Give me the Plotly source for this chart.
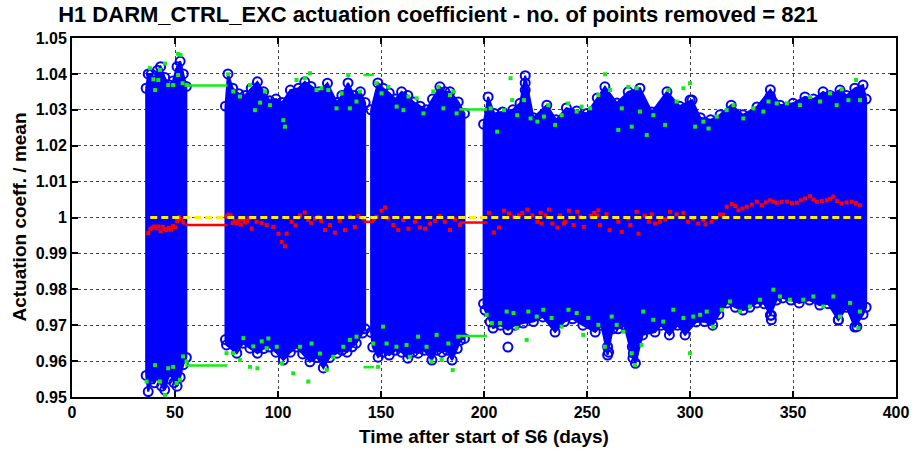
import plotly.graph_objects as go

# ---------------- data ----------------
TITLE = "H1 DARM_CTRL_EXC actuation coefficient - no. of points removed = 821"
X_LABEL = "Time after start of S6 (days)"
Y_LABEL = "Actuation coeff. / mean"

X_TICKS = [0, 50, 100, 150, 200, 250, 300, 350, 400]
Y_TICKS = [0.95, 0.96, 0.97, 0.98, 0.99, 1.00, 1.01, 1.02, 1.03, 1.04, 1.05]
Y_TICK_TEXT = ["0.95", "0.96", "0.97", "0.98", "0.99", "1", "1.01", "1.02", "1.03", "1.04", "1.05"]

# envelope of the dense blue cloud, per observing segment
SEG_A_UP_X = [36.0, 37, 38.5, 40, 41.5, 43, 45, 47, 49, 51, 52.5, 54, 55.5]
SEG_A_UP_Y = [1.036, 1.040, 1.040, 1.038, 1.041, 1.042, 1.039, 1.037, 1.038, 1.042, 1.0435, 1.040, 1.0365]
SEG_A_LO_X = [36.0, 37, 38.5, 40, 42, 43.5, 45, 46.5, 48, 49.5, 51, 52.5, 54, 55.5]
SEG_A_LO_Y = [0.956, 0.9515, 0.955, 0.954, 0.9565, 0.953, 0.952, 0.955, 0.957, 0.954, 0.953, 0.9555, 0.959, 0.961]

SEG_B_UP_X = [74.5, 75.7, 78, 81, 84, 87, 90, 93, 96, 99, 102, 106, 110, 113, 116, 120, 124, 128.6, 131, 134, 137, 140, 142.3]
SEG_B_UP_Y = [1.031, 1.040, 1.036, 1.0345, 1.034, 1.036, 1.0378, 1.035, 1.0325, 1.033, 1.032, 1.0355, 1.036, 1.0378,
              1.0365, 1.035, 1.0374, 1.032, 1.034, 1.0375, 1.034, 1.035, 1.032]
SEG_B_LO_X = [74.5, 75, 80, 83, 86.4, 90, 93, 96, 99, 102.6, 106, 109, 112, 115.5, 119, 122, 125, 128.6, 131, 133.5,
              136, 138, 141, 142.3]
SEG_B_LO_Y = [0.966, 0.9645, 0.9622, 0.965, 0.9636, 0.9622, 0.9635, 0.9639, 0.9625, 0.9603, 0.9625, 0.9639, 0.962,
              0.9598, 0.961, 0.9581, 0.961, 0.9622, 0.963, 0.9625, 0.964, 0.965, 0.9678, 0.969]

SEG_C_UP_X = [145.2, 148.5, 151, 154, 157, 160, 163, 165.6, 169, 172, 175, 178.6, 181, 183.5, 187.5, 190.5]
SEG_C_UP_Y = [1.030, 1.0375, 1.036, 1.0347, 1.033, 1.035, 1.034, 1.0322, 1.031, 1.030, 1.033, 1.0364, 1.035, 1.035,
              1.0322, 1.029]
SEG_C_LO_X = [145.2, 146, 148.6, 151, 154, 157, 160, 163, 165.5, 168, 171, 174.7, 177, 179.6, 182, 184.5, 187, 188.5, 190.5]
SEG_C_LO_Y = [0.968, 0.9639, 0.9611, 0.9625, 0.9617, 0.963, 0.9625, 0.9608, 0.9625, 0.9622, 0.963, 0.9603, 0.963,
              0.9625, 0.963, 0.9603, 0.9635, 0.9658, 0.9663]

SEG_D_UP_X = [199.8, 202, 205, 209, 214, 217.5, 220, 224, 230.5, 235, 240, 245, 250, 255, 258.7, 264.5, 270, 275.7,
              281.5, 288.8, 295, 301, 305, 310, 314.6, 320, 325.7, 332.5, 339, 343.7, 350, 355.8, 360, 364.6, 368,
              372.8, 376, 380, 384, 385.5]
SEG_D_UP_Y = [1.026, 1.0336, 1.029, 1.0294, 1.030, 1.0318, 1.0395, 1.0278, 1.0313, 1.0272, 1.0305, 1.0297, 1.029,
              1.0333, 1.0364, 1.0319, 1.035, 1.036, 1.0294, 1.035, 1.031, 1.0327, 1.0278, 1.0272, 1.0286, 1.0313,
              1.0286, 1.0308, 1.0356, 1.0313, 1.0318, 1.0336, 1.033, 1.035, 1.034, 1.0355, 1.034, 1.036, 1.0369, 1.033]
SEG_D_LO_X = [199.8, 200.5, 203, 204.4, 208, 211.6, 215, 219, 224, 228.6, 234.5, 239, 243, 248, 254, 257, 260, 262.5,
              265, 268, 272.3, 273.5, 277, 283, 286, 290, 294, 297.6, 303, 307, 311, 314, 318, 322, 325.7, 329, 332.5,
              336, 339, 342, 345, 349, 353, 358, 363, 367, 372, 376, 380, 384, 385.5]
SEG_D_LO_Y = [0.976, 0.9742, 0.9709, 0.9692, 0.970, 0.9687, 0.970, 0.9706, 0.971, 0.9723, 0.9681, 0.971, 0.9718,
              0.970, 0.9681, 0.970, 0.9617, 0.969, 0.969, 0.970, 0.9608, 0.9594, 0.9673, 0.9681, 0.970, 0.9673, 0.970,
              0.9673, 0.9709, 0.971, 0.970, 0.973, 0.9762, 0.975, 0.9742, 0.975, 0.9762, 0.976, 0.9728, 0.977, 0.9776,
              0.977, 0.9762, 0.977, 0.9756, 0.976, 0.9714, 0.975, 0.9695, 0.973, 0.975]

# isolated blue points standing out of the cloud
OUT_X = [211.6, 220, 220, 260, 260.5, 272, 272.5, 300, 300, 339, 339.5, 339.5, 372, 381]
OUT_Y = [0.9639, 1.0375, 1.0355, 0.964, 0.9625, 0.964, 0.9622, 1.0327, 1.0309, 1.0338, 0.9728, 0.9715, 0.9715, 0.9696]

# per-bin maxima / minima (green)
GREEN_UP_X = [37.8, 39.5, 40.3, 41.9, 42.7, 45.1, 46.7, 49.1, 51.5, 51.5, 52.7, 53.7, 55.6,
              75.8, 78.3, 81.5, 86.4, 88.8, 91.3, 93.7, 96.1, 102.6, 103.4, 109, 113, 115.5, 118.7, 121.1, 124.4,
              128.4, 130.9, 134.1, 134.9, 138.1, 139.8,
              147.9, 150.3, 153.6, 157.6, 160.9, 163.3, 167.3, 170.6, 175.4, 177.9, 180.3, 183.5, 185.1, 186.7,
              203.2, 206.4, 209.7, 212.9, 213.7, 216.1, 219.4, 222.6, 225.9, 229.1, 231.2, 234.5, 237.7, 240.9, 245,
              247.4, 251.5, 255.5, 258.8, 261.2, 265.2, 266.9, 270.1, 271.7, 274.1, 275.7, 279, 282.2, 287.9, 289.5,
              293.5, 296.8, 300, 302.5, 306.5, 309, 313, 317.8, 321.1, 325.9, 330.8, 335.6, 338.1, 342.1, 347, 353.4,
              358.3, 363.1, 368, 371.2, 373.6, 376.9, 380.6, 382.5]
GREEN_UP_Y = [1.0416, 1.0385, 1.0355, 1.0383, 1.0411, 1.0429, 1.0369, 1.0369, 1.0456, 1.0397, 1.0453, 1.0374, 1.0369,
              1.0399, 1.0351, 1.0337, 1.0369, 1.0299, 1.0320, 1.0351, 1.0313, 1.0271, 1.0253, 1.0383, 1.0388, 1.0402,
              1.0355, 1.036, 1.0355, 1.0304, 1.0346, 1.0397, 1.0304, 1.0323, 1.0351,
              1.0374, 1.0346, 1.0364, 1.0309, 1.0299, 1.0337, 1.0332, 1.029, 1.0351, 1.0364, 1.0304, 1.0341, 1.0351,
              1.029,
              1.0304, 1.0239, 1.0299, 1.0388, 1.0327, 1.0285, 1.0327, 1.0276, 1.0267, 1.0281, 1.0313, 1.0258, 1.0285,
              1.0318, 1.0295, 1.0309, 1.0304, 1.0341, 1.0399, 1.0355, 1.0244, 1.0304, 1.0364, 1.0253, 1.036, 1.0295,
              1.023, 1.0285, 1.0258, 1.0355, 1.0323, 1.036, 1.0374, 1.0253, 1.0267, 1.0248, 1.0281, 1.0299, 1.0313,
              1.0276, 1.0304, 1.0295, 1.0323, 1.0318, 1.0318, 1.0313, 1.0336, 1.0323, 1.0346, 1.0313, 1.0357, 1.0327,
              1.0383, 1.0327]
GREEN_LO_X = [36.2, 40.3, 42.7, 45.1, 46.7, 49.1, 50.8, 52.4, 53.9, 55.6,
              75, 78.3, 81.5, 83.2, 86.4, 88, 90, 92.1, 94.5, 95.3, 99.4, 101.8, 107.4, 110.7, 114.7, 116.3, 120.4,
              123.6, 126.8, 131.7, 134.9, 138.1,
              146.2, 148.6, 151, 152.7, 157.5, 162.4, 164, 168, 172.1, 174.5, 177, 179.4, 182.7, 184.8, 187.5,
              201.3, 203.8, 207.8, 211, 214.3, 215.9, 220.7, 221.5, 225.6, 228.8, 232.8, 237.7, 241, 245, 248.2,
              250.6, 255.5, 258.7, 262, 264.4, 267.6, 271.7, 273.3, 276.5, 277.3, 282.2, 287, 291.9, 296.8, 300,
              301.6, 304.9, 308.1, 311.3, 315.4, 319.4, 324.3, 329.1, 334, 340.5, 343.7, 348.5, 355, 359.9, 364.7,
              369.6, 372.8, 377.7, 381.7, 382.5]
GREEN_LO_Y = [0.9543, 0.9589, 0.9543, 0.9506, 0.958, 0.9584, 0.9539, 0.9548, 0.9613, 0.9599,
              0.9622, 0.9622, 0.9603, 0.9664, 0.9584, 0.9641, 0.958, 0.9655, 0.9636, 0.9663, 0.964, 0.9594, 0.9566,
              0.964, 0.9543, 0.9649, 0.9621, 0.9575, 0.9612, 0.964, 0.9659, 0.9668,
              0.9649, 0.9584, 0.9696, 0.9649, 0.964, 0.9645, 0.9612, 0.9668, 0.964, 0.9599, 0.9673, 0.9603, 0.9649,
              0.9575, 0.9668,
              0.9729, 0.9706, 0.9706, 0.9738, 0.9734, 0.9692, 0.9659, 0.9738, 0.9724, 0.9743, 0.972, 0.9696, 0.9743,
              0.9734, 0.9673, 0.972, 0.9701, 0.964, 0.9724, 0.9701, 0.9682, 0.9622, 0.9589, 0.9645, 0.9738, 0.9715,
              0.971, 0.9743, 0.972, 0.9622, 0.9724, 0.9729, 0.9738, 0.9696, 0.9743, 0.9766, 0.9738, 0.9752, 0.9771,
              0.9799, 0.978, 0.9771, 0.9771, 0.978, 0.9752, 0.978, 0.9724, 0.9762, 0.9692, 0.9738]

# per-bin means (red)
RED_X = [37, 38, 39, 40, 41, 42, 43, 44, 45, 46, 47, 48, 49, 50, 51, 52, 53, 54,
         75, 76, 77, 78, 79, 80, 81, 82, 83, 84, 85, 86, 87.2, 89.6, 92, 94.5, 97.7, 100.2, 101.8, 103.4, 104.2,
         106.6, 108.5, 110.7, 113, 114.7, 116, 118, 119.6, 121, 122.8, 125.2, 127.6, 130, 132.5, 134.9, 137.3, 139,
         141.4,
         146.5, 147.9, 150.3, 152, 153.6, 156, 158.4, 160.8, 163.3, 166.5, 168.9, 171.4, 173.8, 176.2, 178.6, 181,
         183.5, 185.9, 188.3,
         202.4, 204.8, 207.3, 209.7, 212.1, 214.6, 217, 218.6, 221, 223.5, 225.9, 227.5, 228, 229.9, 231.5, 233.2,
         235.6, 236.9, 238.8, 239.4, 241.2, 243.5, 245.3, 246.6, 248.5, 251.8, 253.5, 255, 255.5, 256.3, 259.5, 261,
         265.2, 266.9, 270, 271, 274.1, 275, 278, 280, 281.4, 283, 285.4, 288, 290.3, 293.5, 296.8, 299, 301.6, 304,
         306.5, 307.5, 310.5, 312.5, 314.6, 316, 317.8, 320.2, 322, 323.5, 325.5, 327.5, 330, 332.4, 334.8, 336.8,
         338.9, 340.5, 342.1, 344.5, 347, 349.5, 351.8, 353.8, 355.9, 358.3, 360, 361.5, 364, 366.4, 368, 369.6,
         371.5, 373.6, 376, 378.5, 380.5, 382.5]
RED_Y = [0.9957, 0.9968, 0.9972, 0.9975, 0.9970, 0.9975, 0.9962, 0.9974, 0.9968, 0.9965, 0.9971, 0.9966, 0.9976,
         0.9973, 0.9990, 1.0001, 0.9995, 0.9986,
         1.0003, 1.0008, 1.0006, 0.9985, 0.9990, 0.9984, 0.9992, 0.9980, 0.9995, 0.9986, 0.9991, 0.9998, 0.9969,
         0.9988, 0.9985, 0.9979, 0.9974, 0.9955, 0.9932, 0.9920, 0.9955, 0.9988, 0.9978, 1.0006, 1.0014, 0.9993,
         0.9985, 0.9997, 1.0002, 0.9990, 0.9965, 0.9979, 0.9958, 0.9991, 0.9965, 1.0002, 0.9974, 1.0004, 0.9997,
         0.9995, 1.0002, 1.0019, 1.0028, 0.9997, 0.9979, 0.9965, 0.9993, 0.9969, 0.9988, 0.9972, 0.9969, 0.9983,
         0.9991, 1.0004, 0.9988, 0.9965, 0.9994, 0.9979,
         1.0013, 0.9958, 0.9972, 1.0019, 1.0011, 1.0002, 1.0006, 1.0013, 1.0022, 1.0006, 0.9988, 1.0013, 0.9983,
         1.0006, 1.0022, 0.9983, 0.9972, 1.0006, 0.9983, 0.9988, 1.0019, 0.9979, 1.0016, 1.0002, 0.9974, 1.0004,
         1.0013, 1.0006, 1.0020, 0.9979, 1.0009, 0.9965, 0.9988, 0.9960, 0.9997, 0.9979, 1.0016, 0.9955, 1.0005,
         0.9988, 1.0009, 0.9983, 0.9988, 0.9995, 1.0016, 1.0009, 1.0013, 0.9988, 0.9997, 0.9983, 0.9993, 0.9981,
         0.9988, 0.9998, 1.0008, 1.0008, 1.0030, 1.0037, 1.0032, 1.0020, 1.0025, 1.0030, 1.0036, 1.0044, 1.0034,
         1.0042, 1.0048, 1.0044, 1.0041, 1.0043, 1.0044, 1.0040, 1.0041, 1.0048, 1.0053, 1.0059, 1.0050, 1.0044,
         1.0046, 1.0048, 1.0052, 1.0058, 1.0046, 1.0039, 1.0042, 1.0044, 1.0040, 1.0034]

# values held across the data gaps
GAP_START = [55.0, 141.5, 188.0]
GAP_END = [75.5, 146.5, 201.5]
GAP_RED = [0.9979, 0.9988, 0.9986]
GAP_GREEN_UP = [1.0368, 1.0397, 1.0301]
GAP_GREEN_LO = [0.9588, 0.9583, 0.9670]

# reference level (yellow dashed)
REF_X = [38.0, 385.0]
REF_LEVEL = 1.0

# ---------------- figure ----------------
FONT = "Liberation Sans"
BLUE = "#0000ff"
GREEN = "#11ee11"
RED = "#ff0000"
YELLOW = "#ffee00"
W, H = 914, 452

segments = [
    (SEG_A_UP_X, SEG_A_UP_Y, SEG_A_LO_X, SEG_A_LO_Y),
    (SEG_B_UP_X, SEG_B_UP_Y, SEG_B_LO_X, SEG_B_LO_Y),
    (SEG_C_UP_X, SEG_C_UP_Y, SEG_C_LO_X, SEG_C_LO_Y),
    (SEG_D_UP_X, SEG_D_UP_Y, SEG_D_LO_X, SEG_D_LO_Y),
]

poly_x, poly_y, circ_x, circ_y = [], [], [], []
for ux, uy, lx, ly in segments:
    poly_x += ux + lx[::-1] + [ux[0], None]
    poly_y += uy + ly[::-1] + [uy[0], None]
    circ_x += ux + lx
    circ_y += uy + ly
circ_x += OUT_X
circ_y += OUT_Y


def gap_lines(levels):
    xs, ys = [], []
    for x0, x1, v in zip(GAP_START, GAP_END, levels):
        xs += [x0, x1, None]
        ys += [v, v, None]
    return xs, ys


fig = go.Figure()
fig.add_trace(go.Scatter(x=poly_x, y=poly_y, mode="lines", fill="toself", fillcolor=BLUE,
                         line=dict(color=BLUE, width=2), hoverinfo="skip", showlegend=False))
fig.add_trace(go.Scatter(x=circ_x, y=circ_y, mode="markers", showlegend=False,
                         marker=dict(symbol="circle-open", size=9, color=BLUE, line=dict(width=2, color=BLUE))))
fig.add_trace(go.Scatter(x=GREEN_UP_X + GREEN_LO_X, y=GREEN_UP_Y + GREEN_LO_Y, mode="markers", showlegend=False,
                         marker=dict(symbol="square", size=4, color=GREEN, line=dict(width=0))))
fig.add_trace(go.Scatter(x=RED_X, y=RED_Y, mode="markers", showlegend=False,
                         marker=dict(symbol="square", size=4, color=RED, line=dict(width=0))))
for levels, col in ((GAP_GREEN_UP, GREEN), (GAP_GREEN_LO, GREEN), (GAP_RED, RED)):
    gx, gy = gap_lines(levels)
    fig.add_trace(go.Scatter(x=gx, y=gy, mode="lines", line=dict(color=col, width=2.5), showlegend=False))
fig.add_trace(go.Scatter(x=REF_X, y=[REF_LEVEL, REF_LEVEL], mode="lines", showlegend=False,
                         line=dict(color=YELLOW, width=3, dash="7px,4px")))

axis_common = dict(showline=True, linecolor="black", linewidth=2, mirror="ticks", ticks="inside",
                   ticklen=6, tickwidth=2, tickcolor="black", showgrid=True, gridcolor="#444",
                   griddash="dot", gridwidth=1, zeroline=False, automargin=False,
                   ticklabeloverflow="allow",
                   tickfont=dict(family=FONT, size=16, color="black", weight="bold"))

fig.update_layout(
    width=W, height=H,
    margin=dict(l=72, r=18, t=38, b=55),
    paper_bgcolor="white", plot_bgcolor="white",
    title=dict(text=TITLE, x=438 / W, xref="container", xanchor="center", y=1 - 14 / H, yanchor="middle",
               font=dict(family=FONT, size=22, color="black", weight="bold")),
    xaxis=dict(range=[0, 400], tickvals=X_TICKS, **axis_common),
    yaxis=dict(range=[0.95, 1.05], tickvals=Y_TICKS, ticktext=Y_TICK_TEXT, **axis_common),
    annotations=[
        dict(text=X_LABEL, x=0.5, xref="paper", y=0, yref="paper", xanchor="center", yanchor="middle",
             yshift=-39, showarrow=False, font=dict(family=FONT, size=19, color="black", weight="bold")),
        dict(text=Y_LABEL, x=0, xref="paper", y=0.5, yref="paper", xanchor="center", yanchor="middle",
             xshift=-53, textangle=-90, showarrow=False,
             font=dict(family=FONT, size=19, color="black", weight="bold")),
    ],
)

# the page body has a default 8 px margin; remove it so the figure fills the window exactly
fig.write_html("out.html", config={"displayModeBar": False, "staticPlot": True},
               post_script="document.body.style.margin='0px';")
